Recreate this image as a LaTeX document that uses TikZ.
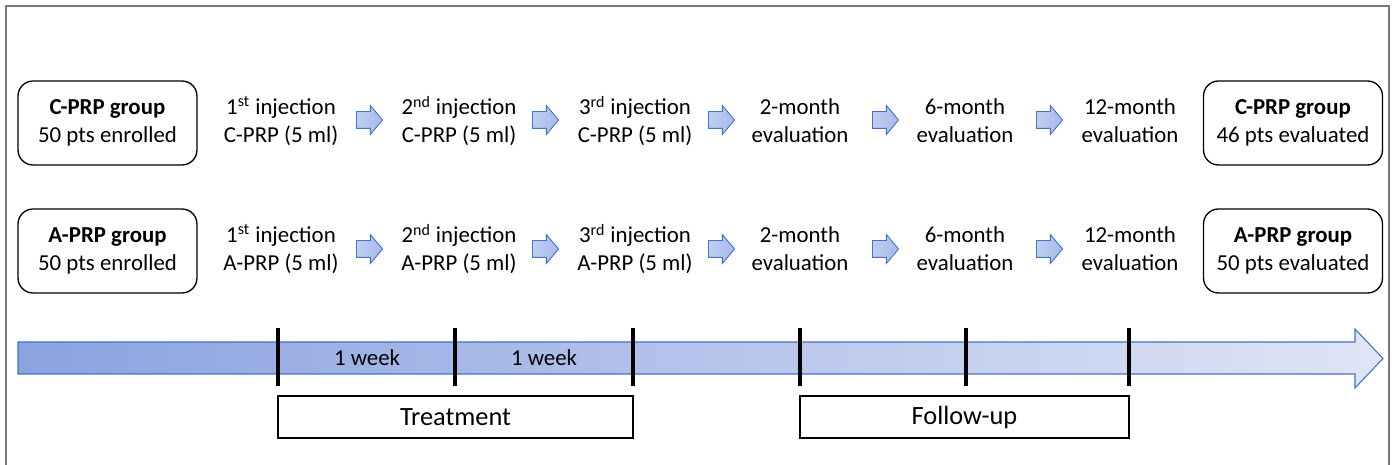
\documentclass[tikz,border=0pt]{standalone}
\usepackage{fontspec}
\setmainfont{Carlito}
\usetikzlibrary{shapes.arrows, positioning}

\definecolor{arrowblue}{RGB}{68,114,196}
\definecolor{darkband}{RGB}{138,162,224}
\definecolor{lightband}{RGB}{224,229,246}
\definecolor{tipfill}{RGB}{166,185,234}
\definecolor{framegray}{RGB}{120,120,120}

\begin{document}
\begin{tikzpicture}[x=0.02cm, y=-0.02cm,
        every node/.style={font=\fontsize{13}{16}\selectfont, align=center},
        group/.style={draw, rounded corners=0.3cm, line width=0.75pt,
            minimum width=3.58cm, minimum height=1.68cm},
        period/.style={draw, line width=0.75pt, minimum height=0.84cm,
            font=\fontsize{15}{18}\selectfont},
        blockarrow/.style={shape=single arrow, draw=arrowblue, line width=0.5pt,
            left color=tipfill!70!white, right color=tipfill,
            inner xsep=0pt, inner ysep=0.16cm, minimum height=0.52cm,
            single arrow head extend=0.12cm, single arrow tip angle=100}
    ]
        \useasboundingbox (0,0) rectangle (1394,465);
        \draw[framegray, line width=1pt]
            (6,465) -- (6,6) -- (1389,6) -- (1389,465);

        % C-PRP row
        \node[group] (cstart) at (107.5,123) {\textbf{C-PRP group}\\50 pts enrolled};
        \node (cinj1) at (281,121) {1\textsuperscript{st} injection\\C-PRP (5 ml)};
        \node (cinj2) at (459,121) {2\textsuperscript{nd} injection\\C-PRP (5 ml)};
        \node (cinj3) at (635,121) {3\textsuperscript{rd} injection\\C-PRP (5 ml)};
        \node (ceval2) at (800,121) {2-month\\evaluation};
        \node (ceval6) at (965,121) {6-month\\evaluation};
        \node (ceval12) at (1130,121) {12-month\\evaluation};
        \node[group] (cend) at (1293,123) {\textbf{C-PRP group}\\46 pts evaluated};

        % A-PRP row
        \node[group] (astart) at (107.5,251) {\textbf{A-PRP group}\\50 pts enrolled};
        \node (ainj1) at (281,249) {1\textsuperscript{st} injection\\A-PRP (5 ml)};
        \node (ainj2) at (459,249) {2\textsuperscript{nd} injection\\A-PRP (5 ml)};
        \node (ainj3) at (635,249) {3\textsuperscript{rd} injection\\A-PRP (5 ml)};
        \node (aeval2) at (800,249) {2-month\\evaluation};
        \node (aeval6) at (965,249) {6-month\\evaluation};
        \node (aeval12) at (1130,249) {12-month\\evaluation};
        \node[group] (aend) at (1293,251) {\textbf{A-PRP group}\\50 pts evaluated};

        \foreach \ax [count=\i] in {366,542,718,882,1046} {
            \node[blockarrow] (carrow\i) at (\ax,120) {};
            \node[blockarrow] (aarrow\i) at (\ax,249) {};
        }

        % timeline
        \draw[arrowblue, line width=0.6pt, left color=darkband, right color=lightband]
            (18,342) -- (1355,342) -- (1355,329) -- (1383,358.5)
            -- (1355,388) -- (1355,374) -- (18,374) -- cycle;
        \foreach \t in {278,455,633,800,966,1129}
            \draw[line width=2.2pt] (\t,328) -- (\t,386);
        \node (week1) at (367,358) {1 week};
        \node (week2) at (544,358) {1 week};

        \node[period, minimum width=7.1cm] (treat) at (455.5,417) {Treatment};
        \node[period, minimum width=6.58cm] (follow) at (964.5,417) {Follow-up};
    \end{tikzpicture}
\end{document}
